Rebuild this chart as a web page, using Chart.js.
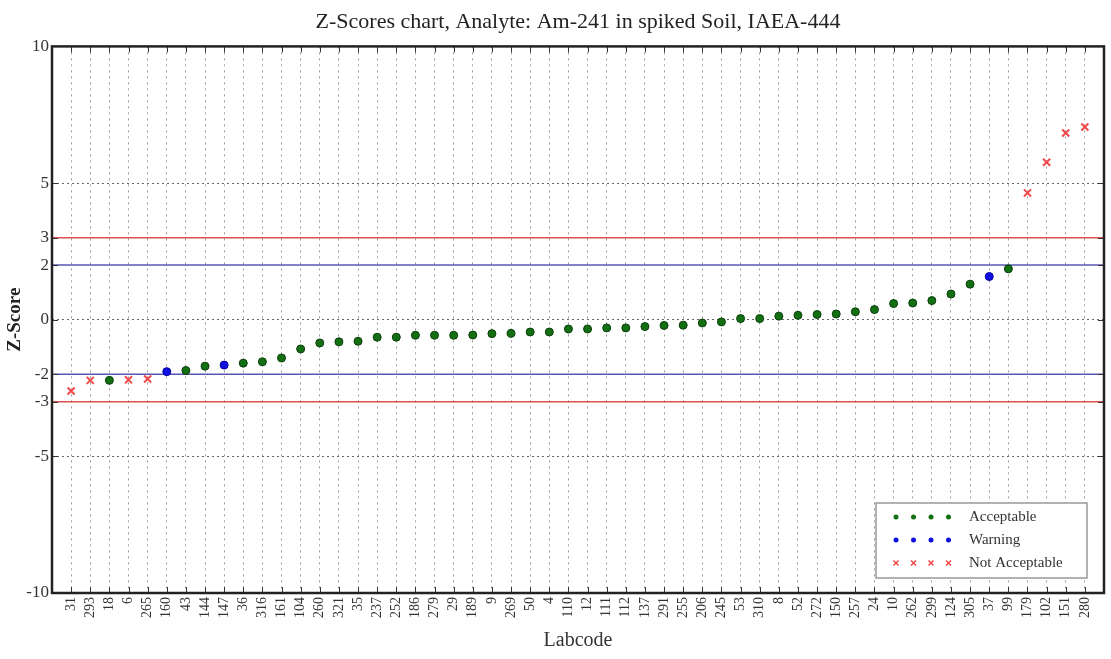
<!DOCTYPE html>
<html>
<head>
<meta charset="utf-8">
<script src="https://cdn.jsdelivr.net/npm/chart.js@4/dist/chart.umd.min.js"></script>
<style>
  html, body { margin: 0; padding: 0; background: #fff; }
  canvas { display: block; }
</style>
</head>
<body>
<canvas id="zChart" width="1111" height="659"></canvas>
<script>
// Labcodes in plot order
const labcodes = [
  "31", "293", "18", "6", "265", "160", "43", "144", "147", "36",
  "316", "161", "104", "260", "321", "35", "237", "252", "186", "279",
  "29", "189", "9", "269", "50", "4", "110", "12", "111", "112",
  "137", "291", "255", "206", "245", "53", "310", "8", "52", "272",
  "150", "257", "24", "10", "262", "299", "124", "305", "37", "99",
  "179", "102", "151", "280"
];

// Z-score per labcode
const zScores = [
  -2.61, -2.22, -2.22, -2.2, -2.17, -1.9, -1.86, -1.7, -1.66, -1.59,
  -1.54, -1.4, -1.07, -0.85, -0.81, -0.79, -0.64, -0.64, -0.57, -0.57,
  -0.57, -0.56, -0.51, -0.5, -0.45, -0.45, -0.34, -0.34, -0.3, -0.3,
  -0.25, -0.21, -0.2, -0.12, -0.08, 0.04, 0.04, 0.13, 0.16, 0.19,
  0.21, 0.29, 0.37, 0.59, 0.61, 0.7, 0.94, 1.3, 1.58, 1.86,
  4.64, 5.76, 6.83, 7.05
];

// A = Acceptable, W = Warning, N = Not Acceptable
const statuses = [
  "N", "N", "A", "N", "N", "W", "A", "A", "W", "A",
  "A", "A", "A", "A", "A", "A", "A", "A", "A", "A",
  "A", "A", "A", "A", "A", "A", "A", "A", "A", "A",
  "A", "A", "A", "A", "A", "A", "A", "A", "A", "A",
  "A", "A", "A", "A", "A", "A", "A", "A", "W", "A",
  "N", "N", "N", "N"
];

const yTicks = [-10, -5, -3, -2, 0, 2, 3, 5, 10];
const warningLimits = [-2, 2];
const actionLimits = [-3, 3];
const xRange = [0, 55];

const GREEN = "#127012";
const BLUE = "#1010e0";
const RED = "#f04a4a";
const SERIF = "'Liberation Serif', 'DejaVu Serif', serif";

// Punkte einer Kategorie sammeln
function pontosDe(code) {
  const out = [];
  zScores.forEach((z, i) => {
    if (statuses[i] === code) out.push({ x: i + 1, y: z });
  });
  return out;
}

function linhaLimite(y, color) {
  return {
    type: "line",
    label: "limit",
    data: [{ x: xRange[0], y }, { x: xRange[1], y }],
    borderColor: color,
    borderWidth: 1.5,
    pointRadius: 0,
    inLegend: false,
    order: 5
  };
}

const datasets = [
  {
    label: "Acceptable",
    data: pontosDe("A"),
    pointStyle: "circle",
    pointRadius: 4,
    backgroundColor: GREEN,
    borderColor: "#0b3d0b",
    borderWidth: 1,
    inLegend: true,
    order: 1
  },
  {
    label: "Warning",
    data: pontosDe("W"),
    pointStyle: "circle",
    pointRadius: 4,
    backgroundColor: BLUE,
    borderColor: "#0000a0",
    borderWidth: 1,
    inLegend: true,
    order: 1
  },
  {
    label: "Not Acceptable",
    data: pontosDe("N"),
    pointStyle: "crossRot",
    pointRadius: 5,
    borderColor: RED,
    backgroundColor: RED,
    borderWidth: 2,
    inLegend: true,
    order: 1
  }
];
actionLimits.forEach(v => datasets.push(linhaLimite(v, "rgba(215,60,60,0.9)")));
warningLimits.forEach(v => datasets.push(linhaLimite(v, "rgba(70,70,170,0.9)")));

// Moldura do gráfico e marcas internas
const molduraPlugin = {
  id: "moldura",
  afterDatasetsDraw(chart) {
    const { ctx, chartArea: a, scales } = chart;
    ctx.save();
    ctx.strokeStyle = "#333";
    ctx.lineWidth = 1;
    ctx.beginPath();
    scales.x.ticks.forEach(t => {
      const px = Math.round(scales.x.getPixelForValue(t.value)) + 0.5;
      ctx.moveTo(px, a.top); ctx.lineTo(px, a.top + 6);
      ctx.moveTo(px, a.bottom); ctx.lineTo(px, a.bottom - 6);
    });
    scales.y.ticks.forEach(t => {
      const py = Math.round(scales.y.getPixelForValue(t.value)) + 0.5;
      ctx.moveTo(a.left, py); ctx.lineTo(a.left + 6, py);
      ctx.moveTo(a.right, py); ctx.lineTo(a.right - 6, py);
    });
    ctx.stroke();
    ctx.lineWidth = 2.5;
    ctx.strokeStyle = "#222";
    ctx.strokeRect(a.left, a.top, a.right - a.left, a.bottom - a.top);
    ctx.restore();
  }
};

// Legenda dentro da área, canto inferior direito
const legendaPlugin = {
  id: "legenda",
  afterDraw(chart) {
    const { ctx, chartArea: a } = chart;
    const w = 211, h = 75;
    const x0 = a.right - 17 - w, y0 = a.bottom - 15 - h;
    ctx.save();
    ctx.fillStyle = "#fff";
    ctx.fillRect(x0, y0, w, h);
    ctx.strokeStyle = "#999";
    ctx.lineWidth = 1.5;
    ctx.strokeRect(x0, y0, w, h);
    ctx.font = "15px " + SERIF;
    ctx.textBaseline = "middle";
    chart.data.datasets.filter(d => d.inLegend).forEach((d, row) => {
      const y = y0 + 14 + row * 23;
      for (let k = 0; k < 4; k++) {
        const x = x0 + 20 + k * 17.5;
        if (d.pointStyle === "crossRot") {
          ctx.strokeStyle = d.borderColor;
          ctx.lineWidth = 1.5;
          ctx.beginPath();
          ctx.moveTo(x - 2.5, y - 2.5); ctx.lineTo(x + 2.5, y + 2.5);
          ctx.moveTo(x + 2.5, y - 2.5); ctx.lineTo(x - 2.5, y + 2.5);
          ctx.stroke();
        } else {
          ctx.fillStyle = d.backgroundColor;
          ctx.beginPath();
          ctx.arc(x, y, 2.5, 0, Math.PI * 2);
          ctx.fill();
        }
      }
      ctx.fillStyle = "#333";
      ctx.fillText(d.label, x0 + 93, y);
    });
    ctx.restore();
  }
};

function renderizarGrafico() {
  const ctx = document.getElementById("zChart").getContext("2d");
  new Chart(ctx, {
    type: "scatter",
    data: { datasets },
    options: {
      responsive: false,
      animation: false,
      devicePixelRatio: 1,
      layout: { padding: { left: 0, right: 6, top: 0, bottom: 0 } },
      plugins: {
        legend: { display: false },
        tooltip: { enabled: false },
        title: {
          display: true,
          fullSize: false,
          text: "Z-Scores chart, Analyte: Am-241 in spiked Soil, IAEA-444",
          color: "#222",
          font: { family: SERIF, size: 22, weight: "normal" },
          padding: { top: 9, bottom: 11 }
        }
      },
      scales: {
        x: {
          type: "linear",
          min: xRange[0],
          max: xRange[1],
          afterBuildTicks: s => { s.ticks = labcodes.map((_, i) => ({ value: i + 1 })); },
          afterFit: s => { s.height = 66; },
          ticks: {
            autoSkip: false,
            maxRotation: 90,
            minRotation: 90,
            padding: 4,
            color: "#333",
            font: { family: SERIF, size: 14 },
            callback: v => labcodes[v - 1]
          },
          grid: { color: "#9a9a9a", lineWidth: 1, drawTicks: false },
          border: { display: false, dash: [2, 4] },
          title: {
            display: true,
            text: "Labcode",
            color: "#333",
            font: { family: SERIF, size: 20 },
            padding: { top: 0, bottom: 6 }
          }
        },
        y: {
          min: -10,
          max: 10,
          afterBuildTicks: s => { s.ticks = yTicks.map(v => ({ value: v })); },
          afterFit: s => { s.width = 52; },
          ticks: {
            padding: 3,
            color: "#333",
            font: { family: SERIF, size: 17 }
          },
          grid: {
            drawTicks: false,
            lineWidth: 1,
            color: c => (c.tick && [-5, 0, 5].includes(c.tick.value)) ? "#666" : "transparent"
          },
          border: { display: false, dash: [2, 3] },
          title: {
            display: true,
            text: "Z-Score",
            color: "#222",
            font: { family: SERIF, size: 19, weight: "bold" },
            padding: { top: 4, bottom: 4 }
          }
        }
      }
    },
    plugins: [molduraPlugin, legendaPlugin]
  });
}

renderizarGrafico();
</script>
</body>
</html>
